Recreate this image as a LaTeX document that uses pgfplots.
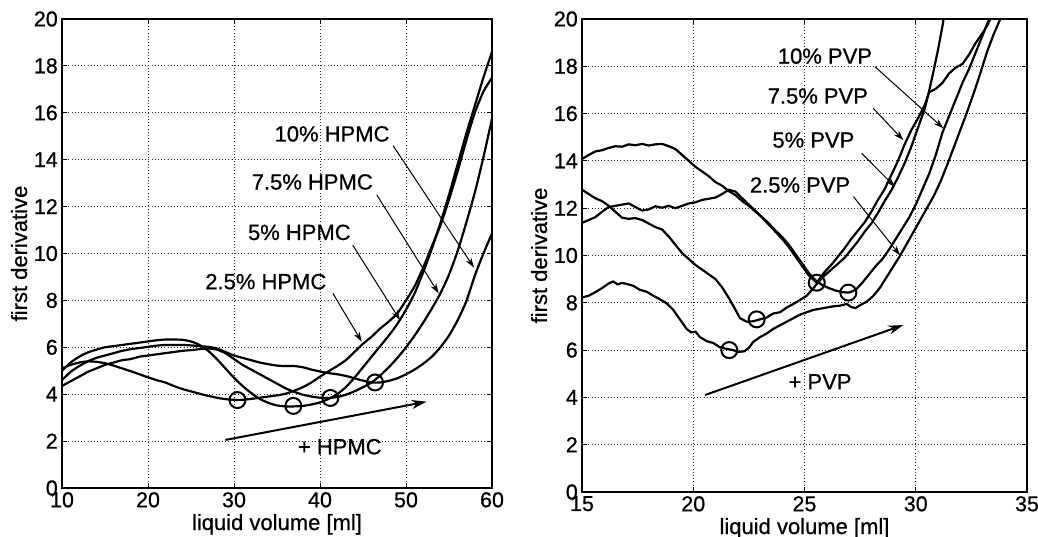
\documentclass[border=0pt]{standalone}
\usepackage{fontspec}
\setmainfont{Liberation Sans}[FakeBold=0.7]
\usepackage{pgfplots}
\pgfplotsset{compat=1.18}
\usetikzlibrary{arrows.meta}

\pgfplotsset{
  derivplot/.style={
    scale only axis,
    anchor=south west,
    ymin=0, ymax=20,
    ytick={0,2,...,20},
    grid=major,
    major grid style={line width=0.9bp, black!85, dash pattern=on 1bp off 2.2bp},
    axis line style={line width=1.4bp},
    tick align=inside,
    major tick length=5bp,
    every tick/.style={black, line width=1bp},
    /pgf/number format/assume math mode=true,
    tick label style={font=\fontsize{21.5bp}{24bp}\selectfont, inner sep=0pt},
    xticklabel style={anchor=north, yshift=-4bp},
    yticklabel style={anchor=east, xshift=-4bp},
    xlabel={liquid volume [ml]},
    ylabel={first derivative},
    every axis x label/.style={at={(axis description cs:0.5,0)}, anchor=base, yshift=-42bp,
      font=\fontsize{22bp}{26bp}\selectfont, inner sep=0pt},
    clip=true,
  },
  ylabelat/.style={
    every axis y label/.style={at={(axis description cs:#1,0.5)}, rotate=90, anchor=base,
      font=\fontsize{22bp}{26bp}\selectfont, inner sep=0pt},
  },
  curve/.style={black, line width=2.2bp},
  minmark/.style={only marks, mark=o, mark size=8bp, mark options={black, line width=2bp}},
}
\tikzset{
  note/.style={font=\fontsize{22bp}{26bp}\selectfont, inner sep=0pt},
  pointer/.style={black, line width=1bp, -{Stealth[length=10bp, width=6.5bp]}},
  trend/.style={black, line width=2bp, -{Stealth[length=15bp, width=9bp]}},
}

\begin{document}
\begin{tikzpicture}
\path[use as bounding box] (0,0) rectangle (1038bp,537bp);

% ---------------- HPMC ----------------
\begin{axis}[derivplot, ylabelat=-0.0814,
  at={(62bp,49bp)}, width=430bp, height=469bp,
  xmin=10, xmax=60, xtick={10,20,...,60},
]
% 2.5% HPMC
\addplot[curve, smooth, tension=0.4] coordinates {
(10,5.10) (11,5.25) (12,5.35) (13,5.40) (14,5.38) (15,5.32) (16,5.22) (17,5.10)
(18,4.98) (19,4.85) (20,4.72) (21,4.60) (22,4.50) (23,4.35) (24,4.22) (25,4.12)
(26,4.02) (27,3.93) (28,3.85) (29,3.79) (30,3.76) (31,3.76) (32,3.80) (33,3.85)
(34,3.90) (35,3.95) (36,4.02) (37,4.15) (38,4.30) (39,4.50) (40,4.75) (41,4.98)
(42,5.20) (43,5.45) (44,5.80) (45,6.15) (46,6.45) (47,6.80) (48,7.10) (49,7.45)
(50,8.00) (51,8.60) (52,9.40) (53,10.30) (54,11.20) (55,12.30) (56,13.50)
(57,14.80) (58,16.00) (59,16.90) (60,17.50)};
% 5% HPMC
\addplot[curve, smooth, tension=0.4] coordinates {
(10,5.00) (11,5.35) (12,5.60) (13,5.78) (14,5.90) (15,6.00) (16,6.05) (17,6.10)
(18,6.15) (19,6.20) (20,6.25) (21,6.30) (22,6.33) (23,6.33) (24,6.32) (25,6.25)
(26,6.10) (27,5.85) (28,5.50) (29,5.10) (30,4.70) (31,4.35) (32,4.05) (33,3.80)
(34,3.63) (35,3.52) (36,3.48) (37,3.48) (38,3.50) (39,3.56) (40,3.65) (41,3.80)
(42,4.00) (43,4.30) (44,4.70) (45,5.15) (46,5.60) (47,6.05) (48,6.50) (49,7.00)
(50,7.60) (51,8.30) (52,9.20) (53,10.20) (54,11.30) (55,12.50) (56,13.80)
(57,15.10) (58,16.30) (59,17.50) (60,18.60)};
% 7.5% HPMC
\addplot[curve, smooth, tension=0.4] coordinates {
(10,4.35) (11,4.55) (12,4.75) (13,4.95) (14,5.10) (15,5.25) (16,5.35) (17,5.45)
(18,5.50) (19,5.60) (20,5.65) (21,5.70) (22,5.75) (23,5.80) (24,5.85) (25,5.88)
(26,5.92) (27,5.95) (28,5.90) (29,5.75) (30,5.50) (31,5.25) (32,5.05) (33,4.85)
(34,4.65) (35,4.45) (36,4.25) (37,4.10) (38,3.98) (39,3.90) (40,3.85) (41,3.84)
(42,3.88) (43,3.98) (44,4.12) (45,4.30) (46,4.50) (47,4.80) (48,5.15) (49,5.55)
(50,6.00) (51,6.50) (52,7.05) (53,7.65) (54,8.30) (55,9.10) (56,10.10)
(57,11.30) (58,12.60) (59,14.10) (60,15.75)};
% 10% HPMC
\addplot[curve, smooth, tension=0.4] coordinates {
(10,4.60) (11,4.95) (12,5.20) (13,5.40) (14,5.55) (15,5.65) (16,5.75) (17,5.85)
(18,5.92) (19,5.97) (20,6.02) (21,6.07) (22,6.10) (23,6.10) (24,6.10) (25,6.08)
(26,6.05) (27,6.02) (28,5.95) (29,5.80) (30,5.65) (31,5.55) (32,5.45) (33,5.35)
(34,5.28) (35,5.22) (36,5.20) (37,5.20) (38,5.15) (39,5.05) (40,4.97) (41,4.90)
(42,4.85) (43,4.78) (44,4.68) (45,4.58) (46,4.50) (47,4.50) (48,4.57) (49,4.68)
(50,4.85) (51,5.05) (52,5.30) (53,5.60) (54,6.00) (55,6.50) (56,7.15)
(57,7.95) (58,9.05) (59,10.00) (60,10.85)};
% minima
\addplot[minmark] coordinates {(30.4,3.75) (36.9,3.50) (41.2,3.84) (46.4,4.50)};

\node[note] at (axis cs:41.4,15.1) {10\% HPMC};
\node[note] at (axis cs:39.1,13.05) {7.5\% HPMC};
\node[note] at (axis cs:37.6,10.9) {5\% HPMC};
\node[note] at (axis cs:33.7,8.8) {2.5\% HPMC};
\node[note] at (axis cs:42.3,1.76) {+ HPMC};
\draw[pointer] (axis cs:48.5,14.6) -- (axis cs:57.9,9.4);
\draw[pointer] (axis cs:46.6,12.5) -- (axis cs:53.8,8.3);
\draw[pointer] (axis cs:43.8,10.36) -- (axis cs:49.3,7.16);
\draw[pointer] (axis cs:41.5,8.3) -- (axis cs:44.85,6.24);
\draw[trend] (axis cs:29.0,2.05) -- (axis cs:52.4,3.68);
\end{axis}

% ---------------- PVP ----------------
\begin{axis}[derivplot, ylabelat=-0.0787,
  at={(582bp,45bp)}, width=445bp, height=473bp,
  xmin=15, xmax=35, xtick={15,20,...,35},
]
% 2.5% PVP
\addplot[curve] coordinates {
(15.0,8.22) (15.3,8.30) (15.6,8.45) (15.9,8.62) (16.2,8.82) (16.4,8.90) (16.6,8.78)
(16.8,8.84) (17.0,8.80) (17.3,8.72) (17.6,8.55) (17.9,8.47) (18.2,8.30) (18.5,8.15)
(18.8,7.98) (19.1,7.70) (19.4,7.30) (19.7,6.90) (19.9,6.75) (20.1,6.78) (20.3,6.55)
(20.6,6.38) (20.9,6.30) (21.2,6.12) (21.5,6.05) (21.8,6.00) (22.0,5.92) (22.3,5.95)
(22.5,6.10) (22.7,6.35) (23.0,6.55) (23.3,6.70) (23.6,6.90) (23.9,7.05) (24.2,7.20)
(24.5,7.35) (24.8,7.50) (25.1,7.60) (25.4,7.70) (25.7,7.75) (26.0,7.80) (26.3,7.85)
(26.6,7.88) (26.9,7.95) (27.1,7.82) (27.3,7.78) (27.5,7.90) (27.8,8.05) (28.1,8.30)
(28.4,8.65) (28.7,9.10) (29.0,9.55) (29.3,10.00) (29.6,10.50) (29.9,11.00)
(30.2,11.50) (30.5,12.00) (30.8,12.50) (31.1,13.10) (31.4,13.80) (31.7,14.55)
(32.0,15.30) (32.3,16.05) (32.6,16.85) (32.9,17.70) (33.2,18.60) (33.5,19.35)
(33.8,20.00) (33.9,20.30)};
% 5% PVP
\addplot[curve] coordinates {
(15.0,12.78) (15.3,12.60) (15.6,12.42) (15.9,12.30) (16.2,12.10) (16.5,11.85)
(16.8,11.60) (17.1,11.55) (17.4,11.58) (17.7,11.50) (18.0,11.35) (18.3,11.20)
(18.6,11.10) (18.9,10.80) (19.2,10.45) (19.5,10.10) (19.8,9.85) (20.1,9.60)
(20.4,9.40) (20.7,9.20) (21.0,9.00) (21.3,8.65) (21.6,8.20) (21.9,7.70) (22.1,7.35)
(22.4,7.20) (22.7,7.22) (23.0,7.30) (23.3,7.38) (23.6,7.55) (23.9,7.60) (24.2,7.80)
(24.5,7.95) (24.8,8.12) (25.1,8.30) (25.4,8.62) (25.6,8.85) (25.9,9.15) (26.2,9.40)
(26.5,9.65) (26.8,9.90) (27.1,10.25) (27.4,10.60) (27.7,11.00) (28.0,11.35)
(28.3,11.80) (28.6,12.30) (28.9,12.75) (29.2,13.30) (29.5,13.90) (29.8,14.60)
(30.1,15.40) (30.4,16.20) (30.6,16.95) (30.8,17.80) (31.0,18.70) (31.2,19.70)
(31.3,20.30)};
% 7.5% PVP
\addplot[curve] coordinates {
(15.0,14.08) (15.3,14.25) (15.6,14.40) (15.9,14.45) (16.2,14.55) (16.5,14.62)
(16.8,14.60) (17.1,14.70) (17.4,14.66) (17.7,14.72) (18.0,14.65) (18.3,14.70)
(18.6,14.72) (18.9,14.62) (19.2,14.50) (19.5,14.25) (19.8,14.00) (20.1,13.75)
(20.4,13.55) (20.7,13.35) (21.0,13.10) (21.3,12.95) (21.6,12.72) (21.9,12.55)
(22.2,12.30) (22.5,12.10) (22.8,11.85) (23.1,11.60) (23.4,11.30) (23.7,11.00)
(24.0,10.70) (24.3,10.35) (24.6,9.95) (24.9,9.55) (25.2,9.15) (25.55,8.85)
(25.9,9.30) (26.2,9.60) (26.5,9.95) (26.8,10.30) (27.1,10.70) (27.4,11.05)
(27.7,11.40) (28.0,11.85) (28.3,12.35) (28.6,12.80) (28.9,13.40) (29.2,14.00)
(29.5,14.70) (29.8,15.30) (30.1,15.80) (30.4,16.35) (30.6,16.90) (30.9,17.05)
(31.2,17.30) (31.5,17.70) (31.8,17.95) (32.1,18.10) (32.4,18.50) (32.7,19.00)
(33.0,19.40) (33.2,19.70) (33.4,20.10) (33.5,20.30)};
% 10% PVP
\addplot[curve] coordinates {
(15.0,11.38) (15.3,11.50) (15.6,11.62) (15.9,11.85) (16.2,12.05) (16.5,12.10)
(16.8,12.15) (17.1,12.20) (17.4,12.05) (17.7,11.90) (18.0,11.95) (18.3,12.08)
(18.6,12.02) (18.9,12.10) (19.2,12.00) (19.5,12.10) (19.8,12.20) (20.1,12.25)
(20.4,12.35) (20.7,12.40) (21.0,12.45) (21.3,12.60) (21.6,12.78) (21.9,12.70)
(22.2,12.42) (22.5,12.15) (22.8,11.88) (23.1,11.62) (23.4,11.35) (23.7,11.05)
(24.0,10.78) (24.3,10.45) (24.6,10.05) (24.9,9.65) (25.2,9.25) (25.5,8.95)
(25.8,8.75) (26.1,8.62) (26.4,8.52) (26.7,8.45) (27.0,8.43) (27.3,8.55)
(27.6,8.85) (27.9,9.20) (28.2,9.55) (28.5,9.85) (28.8,10.25) (29.1,10.70)
(29.4,11.15) (29.7,11.60) (30.0,12.15) (30.3,12.80) (30.6,13.45) (30.9,14.25)
(31.2,15.20) (31.5,15.90) (31.8,16.60) (32.1,17.30) (32.4,17.90) (32.7,18.60)
(33.0,19.30) (33.3,20.00) (33.4,20.30)};
% minima
\addplot[minmark] coordinates {(21.62,6.0) (22.85,7.3) (25.55,8.85) (26.97,8.43)};

\node[note] at (axis cs:25.92,18.43) {10\% PVP};
\node[note] at (axis cs:25.6,16.74) {7.5\% PVP};
\node[note] at (axis cs:25.4,14.88) {5\% PVP};
\node[note] at (axis cs:24.8,12.98) {2.5\% PVP};
\node[note] at (axis cs:25.7,4.66) {+ PVP};
\draw[pointer] (axis cs:28.17,17.98) -- (axis cs:31.24,15.38);
\draw[pointer] (axis cs:28.09,16.22) -- (axis cs:29.44,14.88);
\draw[pointer] (axis cs:27.57,14.32) -- (axis cs:29.07,12.9);
\draw[pointer] (axis cs:27.2,12.49) -- (axis cs:29.3,10.0);
\draw[trend] (axis cs:20.53,4.10) -- (axis cs:29.44,7.06);
\end{axis}
\end{tikzpicture}
\end{document}
